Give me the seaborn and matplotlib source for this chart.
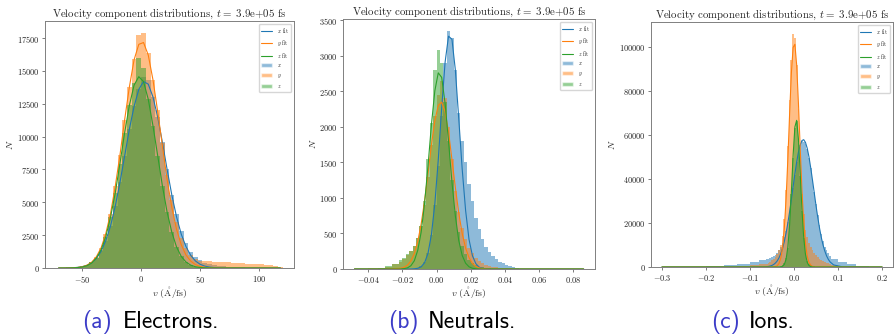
import numpy as np
import pandas as pd
import matplotlib
matplotlib.use("Agg")
import matplotlib.pyplot as plt
from matplotlib.ticker import MultipleLocator
import seaborn as sns
from matplotlib.lines import Line2D
from matplotlib.patches import Patch

sns.set_style("ticks")
plt.rcParams['font.family'] = ['cmr10', 'DejaVu Serif']
plt.rcParams['mathtext.fontset'] = 'cm'
plt.rcParams['axes.formatter.use_mathtext'] = True
plt.rcParams['axes.unicode_minus'] = True

COLORS = ["#1f77b4", "#ff7f0e", "#2ca02c"]
TITLE = r"Velocity component distributions, $t=$ 3.9e+05 fs"

# ---------------- electrons: 4 A/fs bins from -72 to 120 ----------------
el_edges = np.arange(-72, 121, 4)
el_x = [10, 20, 50, 70, 100, 150, 250, 420, 724, 1264, 2081, 3197, 4690, 6510, 8532, 10565, 12301, 13594,
        14500, 14300, 13025, 11504, 9570, 7508, 5560, 4100, 2800, 1900, 1250, 850, 600, 400, 300, 220, 160,
        120, 90, 70, 50, 40, 30, 20, 15, 10, 8, 5, 3, 2]
el_y = [5, 10, 20, 30, 50, 100, 216, 440, 860, 1530, 2620, 4140, 6210, 8590, 11300, 13800, 15900, 17700,
        17900, 16400, 14300, 12000, 9500, 7100, 5200, 3500, 2300, 1500, 1000, 700, 560, 520, 500, 480, 460,
        440, 420, 400, 380, 360, 340, 320, 300, 280, 250, 200, 150, 80]
el_z = [5, 10, 20, 35, 60, 110, 220, 420, 757, 1383, 2388, 3858, 5693, 7950, 10308, 12376, 14100, 16000,
        15200, 12849, 10832, 8561, 6261, 4252, 2723, 1602, 879, 459, 230, 110, 60, 30, 15, 8, 4, 2,
        0, 0, 0, 0, 0, 0, 0, 0, 0, 0, 0, 0]
# fits sampled at the bin centres
el_fit_x = [0, 0, 8, 20, 45, 99, 200, 394, 724, 1264, 2081, 3197, 4690, 6510, 8532, 10565, 12301, 13594,
            14192, 13992, 13025, 11504, 9570, 7508, 5560, 3896, 2574, 1635, 967, 536, 282, 141, 68, 30, 12,
            5, 0, 0, 0, 0, 0, 0, 0, 0, 0, 0, 0, 0]
el_fit_y = [0, 0, 7, 16, 42, 97, 216, 440, 857, 1533, 2621, 4139, 6208, 8588, 11295, 13779, 15848, 17021,
            17159, 16210, 14330, 11916, 9312, 6743, 4600, 2949, 1770, 988, 528, 257, 120, 51, 21, 8, 3,
            0, 0, 0, 0, 0, 0, 0, 0, 0, 0, 0, 0, 0]
el_fit_z = [0, 0, 1, 12, 32, 79, 178, 380, 757, 1383, 2388, 3858, 5693, 7950, 10308, 12376, 13919, 14560,
            14181, 12849, 10832, 8561, 6261, 4252, 2723, 1602, 879, 459, 217, 96, 41, 16, 6, 2,
            0, 0, 0, 0, 0, 0, 0, 0, 0, 0, 0, 0, 0, 0]

# ---------------- neutrals: fine bins in the core, wide in the tails ----------------
nt_edges = np.concatenate([[-0.048, -0.040, -0.034, -0.030, -0.026],
                           np.round(np.arange(-0.022, 0.0501, 0.002), 3),
                           [0.060, 0.070, 0.086]])
nt_x = [0, 0, 0, 0, 0,
        0, 0, 1, 3, 6, 15, 40, 100, 230, 480, 900,
        1450, 2150, 2900, 3350, 3250, 2800, 2200, 1800, 1500, 1200, 950, 720, 560, 420, 310, 240, 180, 140,
        105, 80, 60, 45, 30, 15, 6,
        2, 0, 0]
nt_y = [3, 8, 17, 34, 65,
        100, 140, 190, 250, 330, 440, 600, 900, 1300, 1750, 2150,
        2450, 2650, 2400, 2000, 1550, 1100, 800, 580, 420, 300, 220, 160, 115, 85, 60, 45, 32, 24,
        18, 13, 10, 8, 6, 5, 5,
        4, 3, 2]
nt_z = [0, 3, 14, 40, 75,
        120, 160, 210, 260, 330, 430, 600, 950, 1550, 2050, 2800,
        3080, 2900, 2350, 1800, 1250, 820, 520, 330, 210, 130, 85, 55, 35, 22, 14, 8, 5, 3,
        2, 1, 0, 0, 0, 0, 0,
        0, 0, 0]
nt_fit_v = np.concatenate([[-0.048, -0.030],
                           np.round(np.arange(-0.021, 0.0491, 0.002), 3),
                           [0.060, 0.086]])
nt_fit_x = [0, 0,
            0, 0, 0, 0, 3, 10, 31, 89, 220, 485, 920,
            1535, 2267, 2910, 3276, 3233, 2800, 2111, 1405, 822, 414, 186, 74, 25, 8, 2,
            0, 0, 0, 0, 0, 0, 0, 0, 0, 0,
            0, 0]
nt_fit_y = [0, 0,
            10, 24, 54, 114, 218, 386, 634, 960, 1341, 1749, 2087,
            2301, 2348, 2212, 1930, 1541, 1146, 786, 499, 294, 160, 78, 36, 15, 6, 2,
            0, 0, 0, 0, 0, 0, 0, 0, 0, 0,
            0, 0]
nt_fit_z = [0, 0,
            0, 5, 16, 46, 116, 263, 519, 927, 1448, 2031, 2508,
            2760, 2696, 2330, 1800, 1223, 746, 399, 191, 81, 31, 10, 3,
            0, 0, 0, 0, 0, 0, 0, 0, 0, 0, 0, 0, 0,
            0, 0]

# ---------------- ions ----------------
io_edges = np.concatenate([[-0.30, -0.25, -0.20, -0.16, -0.13, -0.10, -0.08],
                           np.round(np.arange(-0.064, 0.0841, 0.004), 3),
                           [0.10, 0.12, 0.14, 0.17, 0.20]])
io_x = [30, 80, 250, 700, 1400, 2200, 3000,
        3500, 3800, 4100, 4500, 5000, 5600, 6400, 7500, 9000, 11000, 13500, 16500, 20500, 25000, 30500, 36000,
        42000, 47500, 52000, 55500, 57300, 57000, 56000, 53500, 49500, 45000, 39500, 34000, 28500, 23500,
        19000, 15000, 11800, 9300, 7500, 6200, 5200,
        3800, 2400, 1400, 650, 200]
io_y = [20, 40, 90, 200, 450, 800, 1200,
        1500, 1900, 2400, 3000, 3700, 4600, 5800, 7500, 10000, 14000, 22000, 35000, 55000, 76000, 94000, 106000,
        104000, 92000, 72000, 50000, 33000, 24000, 17000, 13500, 11000, 9000, 7500, 6300, 5300, 4500,
        3800, 3200, 2700, 2300, 1900, 1600, 1300,
        950, 550, 280, 110, 30]
io_z = [0, 0, 0, 0, 0, 0, 0,
        0, 0, 5, 25, 40, 70, 120, 200, 400, 800, 1800, 4000, 8800, 18700, 33200, 49400,
        63000, 66500, 56500, 41400, 25400, 13100, 6200, 2800, 1300, 700, 400, 250, 160, 100,
        60, 40, 25, 15, 10, 5, 3,
        0, 0, 0, 0, 0]
io_fit_v = np.concatenate([[-0.30, -0.20, -0.10, -0.07],
                           np.round(np.arange(-0.062, 0.0821, 0.004), 3),
                           [0.09, 0.11, 0.15, 0.20]])
io_fit_x = [0, 0, 0, 44,
            145, 257, 439, 725, 1180, 1850, 2810, 4210, 6080, 8480, 11640, 15470, 19980, 25190, 30750, 36540,
            42380, 47650, 52110, 55470, 57440, 57850, 56630, 53960, 50030, 44990, 39490, 33700, 27850, 22520,
            17660, 13430, 9960, 7240, 5030, 3445, 2300,
            940, 60, 0, 0]
io_fit_y = [0, 0, 0, 0,
            0, 0, 0, 13, 56, 194, 590, 1650, 4050, 8850, 17580, 31100, 49060, 69560, 88130, 99760,
            101200, 91800, 74660, 54160, 35190, 20500, 10710, 4950, 2080, 775, 255, 70, 0, 0,
            0, 0, 0, 0, 0, 0, 0,
            0, 0, 0, 0]
io_fit_z = [0, 0, 0, 0,
            0, 0, 0, 0, 0, 0, 0, 0, 0, 330, 1190, 3580, 9070, 19230, 34170, 50920,
            63650, 66630, 58230, 42680, 26180, 13470, 5810, 2110, 640, 165, 35, 0, 0, 0,
            0, 0, 0, 0, 0, 0, 0,
            0, 0, 0, 0]


def plot_panel(ax, edges, hists, fit_v, fits):
    edges = [float(e) for e in edges]
    mids = [(a + b) / 2 for a, b in zip(edges[:-1], edges[1:])]
    for h, col in zip(hists, COLORS):
        df = pd.DataFrame({"v": mids, "N": h})
        sns.histplot(data=df, x="v", weights="N", bins=edges, color=col, alpha=0.5,
                     linewidth=0, edgecolor="none", ax=ax)
    for f, col in zip(fits, COLORS):
        sns.lineplot(x=list(fit_v), y=f, color=col, linewidth=0.8, ax=ax)

    handles = [Line2D([], [], color=c, lw=0.8) for c in COLORS] + \
              [Patch(facecolor=c, alpha=0.5) for c in COLORS]
    labels = [r"$x$ fit", r"$y$ fit", r"$z$ fit", r"$x$", r"$y$", r"$z$"]
    ax.legend(handles, labels, loc="upper right", fontsize=4, framealpha=0.8)

    ax.set_title(TITLE, fontsize=7.8, pad=3)
    ax.set_xlabel(r"$v$ ($\mathring{\mathrm{A}}$/fs)", fontsize=7, labelpad=1)
    ax.set_ylabel(r"$N$", fontsize=7, labelpad=1)
    ax.tick_params(labelsize=6, length=2.5, width=0.6, pad=1.5, color="0.4")
    for s in ax.spines.values():
        s.set_linewidth(0.7)
        s.set_color("0.5")


fig = plt.figure(figsize=(8.94, 3.36), dpi=100)
ax_a = fig.add_axes([0.0503, 0.2024, 0.2785, 0.735])
ax_b = fig.add_axes([0.3837, 0.1994, 0.2819, 0.744])
ax_c = fig.add_axes([0.7282, 0.2054, 0.2707, 0.729])

plot_panel(ax_a, el_edges, [el_x, el_y, el_z], (el_edges[:-1] + el_edges[1:]) / 2,
           [el_fit_x, el_fit_y, el_fit_z])
ax_a.xaxis.set_major_locator(MultipleLocator(50))
plot_panel(ax_b, nt_edges, [nt_x, nt_y, nt_z], nt_fit_v, [nt_fit_x, nt_fit_y, nt_fit_z])
plot_panel(ax_c, io_edges, [io_x, io_y, io_z], io_fit_v, [io_fit_x, io_fit_y, io_fit_z])

# sub-captions, label part in link blue
captions = [("(a)", "Electrons.", 82, 123), ("(b)", "Neutrals.", 388, 428), ("(c)", "Ions.", 711, 749)]
for tag, name, x_tag, x_name in captions:
    fig.text(x_tag / 894, 0.042, tag, color="#3c3cc8", fontsize=17, family="cmss10", va="center")
    fig.text(x_name / 894, 0.042, name, color="black", fontsize=17, family="cmss10", va="center")

fig.savefig("out.png", dpi=100)
